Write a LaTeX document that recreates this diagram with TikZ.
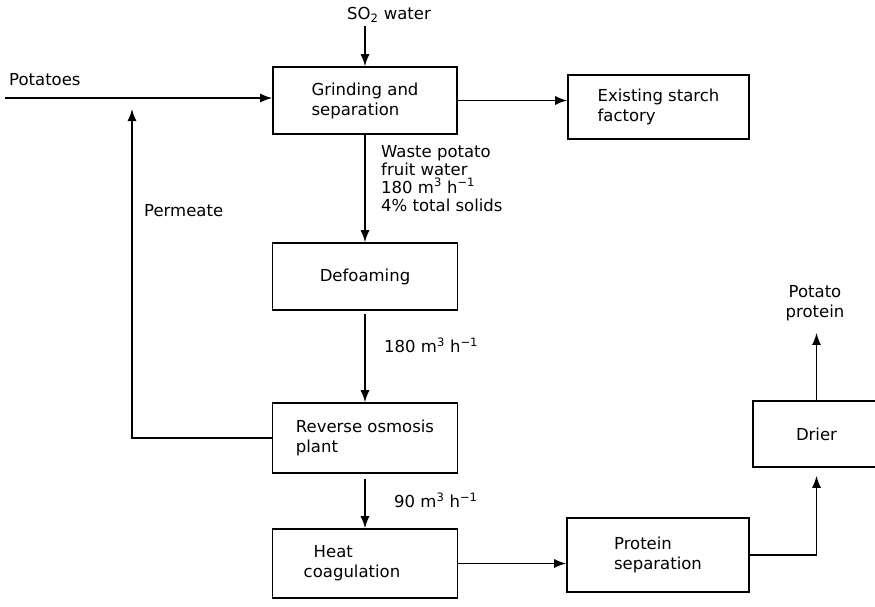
\documentclass[tikz,border=0pt]{standalone}
\usepackage{fontspec}
\setmainfont{DejaVu Sans}
\usetikzlibrary{arrows.meta}
\newcommand{\dfont}{\fontsize{16.5}{20}\selectfont}
\newcommand{\flow}[1]{#1 m\textsuperscript{3} h\textsuperscript{−1}}
\begin{document}
\begin{tikzpicture}[x=1pt,y=-1pt,
  box/.style={draw, line width=1.6pt, inner sep=0pt, align=left, font=\dfont},
  arr/.style={line width=1.4pt, -{Latex[length=12pt,width=9pt]}},
  lbl/.style={inner sep=0pt, font=\dfont, align=left}]
\useasboundingbox (0,0) rectangle (875,606);
\clip (0,0) rectangle (875,606);
% boxes
\node[box, minimum width=184pt, minimum height=67pt] (grind) at (365,100.5) {Grinding and\\separation};
\node[box, minimum width=181pt, minimum height=64pt] (starch) at (658.5,107) {Existing starch\\factory};
\node[box, minimum width=185pt, minimum height=67pt, align=center] (defoam) at (365,276.5) {Defoaming};
\node[box, minimum width=185pt, minimum height=70pt] (ro) at (365,438) {Reverse osmosis\\plant};
\node[box, minimum width=185pt, minimum height=69pt] (heat) at (365,563.5) {\hspace*{10pt}Heat\\coagulation\hspace*{26pt}};
\node[box, minimum width=182pt, minimum height=74pt] (psep) at (658,555) {Protein\\separation};
\node[box, minimum width=127pt, minimum height=66pt, align=center] (drier) at (816.5,434) {Drier};
% labels
\node[lbl, anchor=west] (pot) at (9,80) {Potatoes};
\coordinate (pstart) at (5,98);
\coordinate (permtip) at (132,98);
\node[lbl] (so2) at (389,15) {SO\textsubscript{2} water};
\node[lbl, anchor=north west, font=\fontsize{16.5}{18}\selectfont] (waste) at (381,145) {Waste potato\\fruit water\\\flow{180}\\4\% total solids};
\node[lbl, anchor=west] (f180) at (384,345) {\flow{180}};
\node[lbl, anchor=west] (f90) at (394,500) {\flow{90}};
\node[lbl, anchor=west] (perm) at (144,211) {Permeate};
\node[lbl, align=center] (pp) at (815,303) {Potato\\protein};
% connectors
\draw[arr] (pstart) -- (pstart -| grind.west);
\draw[arr, shorten <=3pt] (so2.south -| grind.north) -- (grind.north);
\draw[arr] (grind.east) -- (grind.east -| starch.west);
\draw[arr] (grind.south) -- (defoam.north);
\draw[arr, shorten <=3pt] (defoam.south) -- (ro.north);
\draw[arr, shorten <=5pt] (ro.south) -- (heat.north);
\draw[arr, shorten >=11pt] (ro.west) -| (permtip);
\draw[arr] (heat.east) -- (heat.east -| psep.west);
\draw[arr, shorten >=8pt] (psep.east) -| (drier.south);
\draw[arr, shorten >=12pt] (drier.north) -- (drier.north |- pp.south);
\end{tikzpicture}
\end{document}
